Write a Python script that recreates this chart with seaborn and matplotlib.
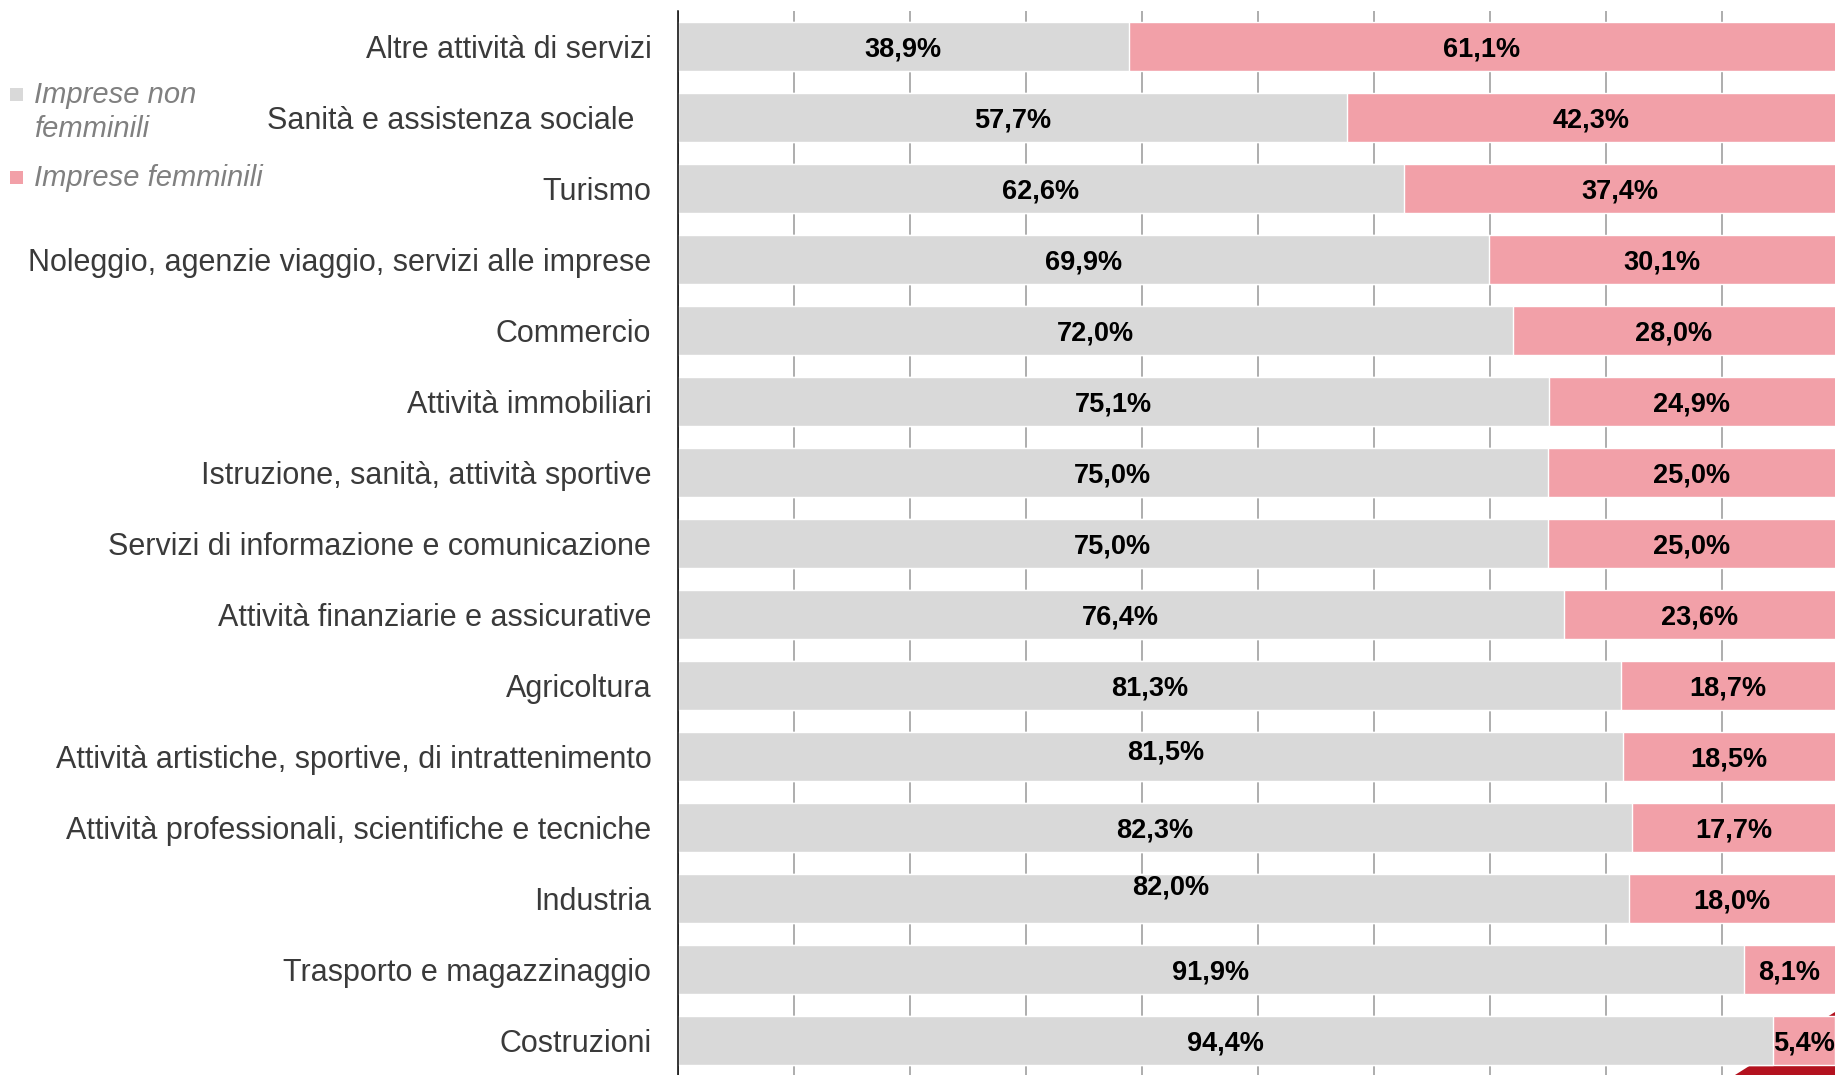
import numpy as np
import pandas as pd
import matplotlib
matplotlib.use("Agg")
import matplotlib.pyplot as plt
import seaborn as sns
from matplotlib.patches import Polygon, Rectangle

# Settori economici (dall'alto verso il basso)
settori = [
    "Altre attività di servizi",
    "Sanità e assistenza sociale  ",
    "Turismo",
    "Noleggio, agenzie viaggio, servizi alle imprese",
    "Commercio",
    "Attività immobiliari",
    "Istruzione, sanità, attività sportive",
    "Servizi di informazione e comunicazione",
    "Attività finanziarie e assicurative",
    "Agricoltura",
    "Attività artistiche, sportive, di intrattenimento",
    "Attività professionali, scientifiche e tecniche",
    "Industria",
    "Trasporto e magazzinaggio",
    "Costruzioni",
]
non_femminili = [38.9, 57.7, 62.6, 69.9, 72.0, 75.1, 75.0, 75.0, 76.4, 81.3, 81.5, 82.3, 82.0, 91.9, 94.4]
femminili = [61.1, 42.3, 37.4, 30.1, 28.0, 24.9, 25.0, 25.0, 23.6, 18.7, 18.5, 17.7, 18.0, 8.1, 5.4]
legenda = ["Imprese non\nfemminili", "Imprese femminili"]

GRIGIO = "#D9D9D9"
ROSA = "#F2A0A8"
XMAX = 99.77  # il grafico originale e' tagliato a destra

df = pd.DataFrame({"settore": settori, "non_femminili": non_femminili, "femminili": femminili})
df["totale"] = df["non_femminili"] + df["femminili"]

sns.set_style("white")
plt.rcParams["font.family"] = ["Liberation Sans", "DejaVu Sans"]

W, H = 1835, 1075
fig = plt.figure(figsize=(W / 100, H / 100), dpi=100)
ax = fig.add_axes([677.7 / W, -1 / H, (W - 677.7) / W, 1065 / H])

# barre impilate: totale (rosa) sotto, quota non femminile (grigio) sopra
sns.barplot(data=df, x="totale", y="settore", color=ROSA, saturation=1, width=0.68, orient="h", ax=ax)
sns.barplot(data=df, x="non_femminili", y="settore", color=GRIGIO, saturation=1, width=0.68, orient="h", ax=ax)

ax.set_xlim(0, XMAX)
ax.set_ylim(len(settori) - 0.5, -0.5)
ax.set_xlabel("")
ax.set_ylabel("")

# etichette dei valori
spostamenti = {10: (15, 7), 12: (17, 14)}  # etichette spostate a mano nell'originale
for i, row in df.iterrows():
    g = row["non_femminili"]
    dx, dy = spostamenti.get(i, (0, 0))
    ax.annotate(f"{g:.1f}%".replace(".", ","), (g / 2, i), xytext=(dx, dy), textcoords="offset pixels",
                ha="center", va="center_baseline", fontsize=19.5, fontweight="bold", color="black")
    f = row["femminili"]
    ax.text((g + min(row["totale"], XMAX)) / 2, i, f"{f:.1f}%".replace(".", ","),
            ha="center", va="center_baseline", fontsize=19.5, fontweight="bold", color="black")

# griglia verticale ogni 10%
ax.set_xticks(np.arange(0, 100, 10))
ax.set_xticklabels([])
ax.xaxis.grid(True, color="#A0A0A0", lw=1.2)
ax.set_axisbelow(True)
ax.tick_params(axis="x", length=0)

ax.set_yticks(np.arange(-0.5, len(settori), 1), minor=True)
ax.tick_params(axis="y", which="major", length=0, pad=19, labelsize=22, labelcolor="#3A3A3A")
ax.tick_params(axis="y", which="minor", length=7.2, width=1.0, color="black", direction="out")

for s in ["top", "right", "bottom"]:
    ax.spines[s].set_visible(False)
ax.spines["left"].set_color("black")
ax.spines["left"].set_linewidth(1.1)

# legenda in alto a sinistra
fig.patches.append(Rectangle((10 / W, 1 - 101 / H), 13 / W, 13 / H, transform=fig.transFigure,
                             facecolor=GRIGIO, edgecolor="none"))
fig.patches.append(Rectangle((10 / W, 1 - 184 / H), 13 / W, 13 / H, transform=fig.transFigure,
                             facecolor=ROSA, edgecolor="none"))
fig.text(34 / W, 1 - 112 / H, legenda[0], ha="left", va="center", fontsize=21, style="italic",
         color="#808080", linespacing=1.25)
fig.text(34 / W, 1 - 178 / H, legenda[1], ha="left", va="center", fontsize=21, style="italic",
         color="#808080")

# angolo rosso decorativo in basso a destra
ax.add_patch(Polygon([(1735 / W, 0), (1.0, 1 - 1012 / H), (1.0, 0)], closed=True, transform=fig.transFigure,
                     facecolor="#B3121F", edgecolor="none", zorder=0.8, clip_on=False))

fig.savefig("out.png", dpi=100)
